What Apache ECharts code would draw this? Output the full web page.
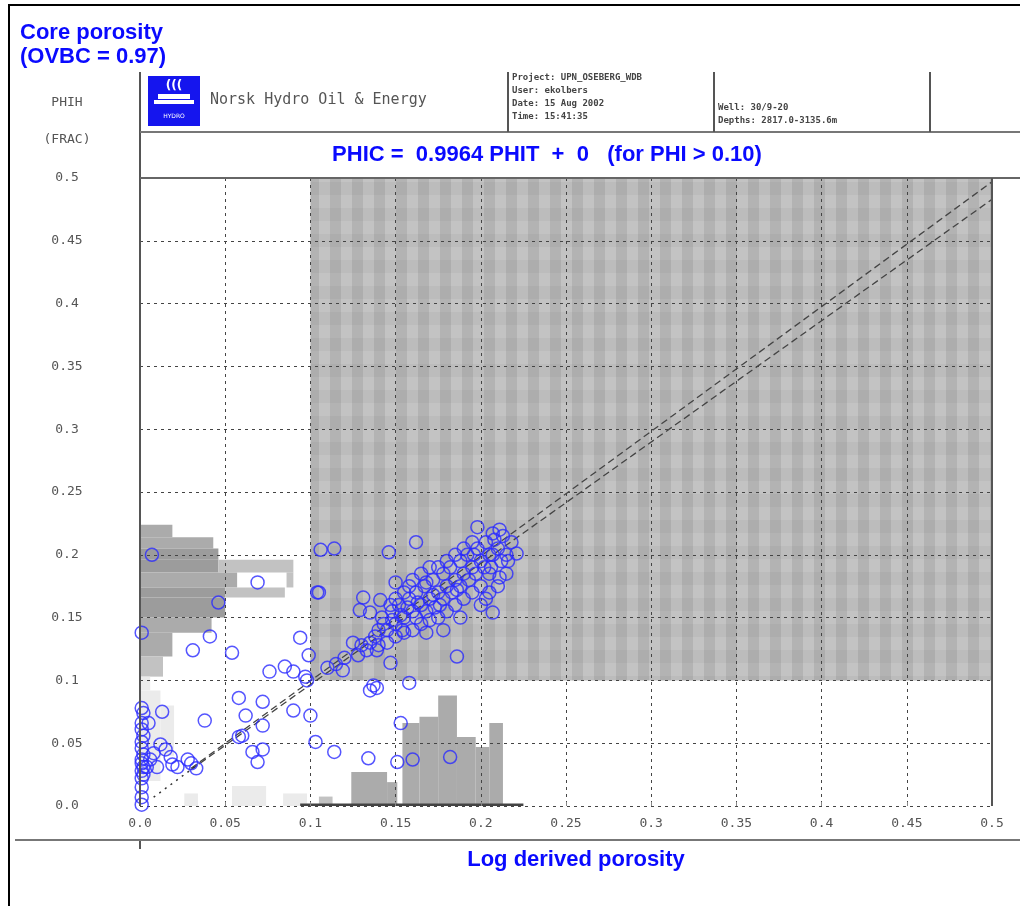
<!DOCTYPE html>
<html>
<head>
<meta charset="utf-8">
<script src="https://cdn.jsdelivr.net/npm/echarts@6/dist/echarts.min.js"></script>
<style>
html,body{margin:0;padding:0;background:#fff;}
#chart{width:1020px;height:906px;}
</style>
</head>
<body>
<div id="chart"></div>
<script>
// ---------------- DATA ----------------
const xTickValues = [0, 0.05, 0.1, 0.15, 0.2, 0.25, 0.3, 0.35, 0.4, 0.45, 0.5];
const yTickValues = [0, 0.05, 0.1, 0.15, 0.2, 0.25, 0.3, 0.35, 0.4, 0.45, 0.5];

// core points: [log derived porosity PHIT, core porosity PHIC]
const corePoints = [
  // x ~ 0 column
  [0.001,0.138],[0.001,0.078],[0.002,0.074],[0.001,0.066],[0.001,0.061],[0.002,0.056],
  [0.001,0.051],[0.001,0.046],[0.002,0.041],[0.001,0.037],[0.001,0.034],[0.002,0.031],
  [0.001,0.028],[0.002,0.025],[0.001,0.022],[0.001,0.015],[0.001,0.007],[0.001,0.001],
  // low-left cluster
  [0.006,0.037],[0.010,0.031],[0.018,0.039],[0.019,0.033],[0.028,0.037],[0.030,0.034],
  [0.033,0.030],[0.004,0.031],[0.013,0.075],[0.005,0.066],[0.012,0.049],[0.008,0.042],
  [0.022,0.031],[0.015,0.045],[0.007,0.200],
  // scattered low porosity
  [0.046,0.162],[0.069,0.178],[0.041,0.135],[0.031,0.124],[0.054,0.122],[0.094,0.134],
  [0.099,0.120],[0.076,0.107],[0.085,0.111],[0.090,0.107],[0.098,0.100],[0.104,0.170],
  [0.106,0.204],[0.114,0.205],[0.097,0.103],[0.058,0.086],[0.072,0.083],[0.062,0.072],
  [0.072,0.064],[0.090,0.076],[0.100,0.072],[0.038,0.068],[0.058,0.055],[0.060,0.056],
  [0.066,0.043],[0.072,0.045],[0.069,0.035],[0.103,0.051],[0.114,0.043],[0.134,0.038],
  [0.151,0.035],[0.160,0.037],[0.182,0.039],[0.153,0.066],[0.135,0.092],[0.139,0.094],
  [0.158,0.098],[0.137,0.096],
  // main cluster
  [0.162,0.210],[0.146,0.202],[0.105,0.170],[0.221,0.201],[0.207,0.217],[0.211,0.220],
  [0.198,0.222],[0.211,0.182],[0.207,0.154],[0.188,0.150],[0.186,0.119],
  [0.131,0.166],[0.141,0.164],[0.129,0.156],[0.135,0.154],[0.150,0.178],[0.154,0.140],
  [0.168,0.138],[0.178,0.140],[0.133,0.124],[0.139,0.124],[0.119,0.108],[0.147,0.114],
  [0.125,0.130],[0.130,0.128],[0.128,0.120],[0.135,0.130],[0.138,0.135],[0.140,0.140],
  [0.145,0.130],[0.142,0.150],[0.148,0.155],[0.150,0.145],[0.152,0.160],[0.155,0.150],
  [0.158,0.165],[0.160,0.155],[0.162,0.170],[0.165,0.160],[0.167,0.175],[0.170,0.165],
  [0.172,0.180],[0.175,0.170],[0.178,0.185],[0.180,0.175],[0.182,0.190],[0.185,0.180],
  [0.188,0.195],[0.190,0.185],[0.192,0.200],[0.195,0.190],[0.198,0.205],[0.200,0.195],
  [0.203,0.210],[0.205,0.200],[0.208,0.212],[0.210,0.205],[0.213,0.215],[0.215,0.200],
  [0.218,0.210],[0.212,0.195],[0.205,0.185],[0.200,0.175],[0.195,0.170],[0.190,0.165],
  [0.185,0.160],[0.180,0.155],[0.175,0.150],[0.170,0.148],[0.165,0.145],[0.160,0.140],
  [0.155,0.138],[0.150,0.135],[0.145,0.140],[0.140,0.128],[0.160,0.180],[0.165,0.185],
  [0.170,0.190],[0.175,0.190],[0.180,0.195],[0.185,0.200],[0.190,0.205],[0.195,0.210],
  [0.168,0.178],[0.172,0.168],[0.176,0.160],[0.183,0.170],[0.188,0.175],[0.193,0.180],
  [0.197,0.185],[0.202,0.190],[0.207,0.200],[0.200,0.160],[0.205,0.170],[0.210,0.175],
  [0.215,0.185],[0.203,0.165],[0.158,0.175],[0.155,0.170],[0.150,0.165],[0.147,0.160],
  [0.162,0.150],[0.168,0.155],[0.173,0.158],[0.178,0.165],[0.186,0.172],[0.196,0.200],
  [0.206,0.190],[0.216,0.195],[0.163,0.162],[0.157,0.158],[0.153,0.152],[0.148,0.148],
  [0.143,0.145],[0.120,0.118],[0.115,0.113],[0.110,0.110]
];

// regression lines (end points)
const lineFit = [[0.03, 0.030], [0.5, 0.497]];
const lineOvbc = [[0.03, 0.029], [0.5, 0.483]];
const lineLow = [[0.008, 0.007], [0.035, 0.034]];

// cut-off zone (PHI > 0.10)
const cutZone = [[0.1, 0.1], [0.5, 0.5]];

// histogram cells: [x0, x1, y0, y1, level]
const leftHistCells = [
  [0, 0.019, 0.214, 0.224, 2],
  [0, 0.043, 0.205, 0.214, 2],
  [0, 0.046, 0.196, 0.205, 3],
  [0, 0.046, 0.186, 0.196, 3], [0.046, 0.090, 0.186, 0.196, 1],
  [0, 0.057, 0.174, 0.186, 2], [0.086, 0.090, 0.174, 0.186, 1],
  [0, 0.050, 0.166, 0.174, 3], [0.050, 0.085, 0.166, 0.174, 1],
  [0, 0.050, 0.150, 0.166, 3],
  [0, 0.042, 0.138, 0.150, 2],
  [0, 0.019, 0.119, 0.138, 2],
  [0, 0.0135, 0.103, 0.119, 1],
  [0, 0.006, 0.092, 0.103, 0],
  [0, 0.012, 0.020, 0.092, 0], [0.012, 0.020, 0.040, 0.080, 0]
];
const bottomHistCells = [
  [0.026, 0.034, 0, 0.010, 0], [0.054, 0.074, 0, 0.016, 0], [0.084, 0.098, 0, 0.010, 0],
  [0.105, 0.113, 0, 0.0075, 1],
  [0.124, 0.145, 0, 0.027, 2],
  [0.145, 0.151, 0, 0.019, 2],
  [0.154, 0.164, 0, 0.066, 2],
  [0.164, 0.175, 0, 0.071, 2],
  [0.175, 0.186, 0, 0.088, 2],
  [0.186, 0.197, 0, 0.055, 2],
  [0.197, 0.205, 0, 0.047, 2],
  [0.205, 0.213, 0, 0.066, 2],
  [0.094, 0.225, 0, 0.002, 4]
];

// ---------------- CHART ----------------
const shades = ['#ebebeb', '#c2c2c2', '#ababab', '#9c9c9c', '#444444'];
const blue = '#2b2bff';
const titleBlue = '#0a0aff';
const monoFont = '"DejaVu Sans Mono", monospace';
const sansBold = '"Liberation Sans", Arial, sans-serif';

// stripe pattern for cut-off zone
const pc = document.createElement('canvas');
pc.width = 22; pc.height = 26;
const pctx = pc.getContext('2d');
pctx.fillStyle = '#c3c3c3'; pctx.fillRect(0, 0, 22, 26);
pctx.fillStyle = '#b3b3b3'; pctx.fillRect(0, 0, 11, 26);
pctx.fillStyle = 'rgba(0,0,0,0.03)'; pctx.fillRect(0, 0, 22, 13);

function fmt(v) {
  if (v === 0) return '0.0';
  return String(+v.toFixed(2));
}

function cellRender(params, api) {
  const p0 = api.coord([api.value(0), api.value(2)]);
  const p1 = api.coord([api.value(1), api.value(3)]);
  return {
    type: 'rect',
    shape: { x: p0[0], y: p1[1], width: p1[0] - p0[0], height: p0[1] - p1[1] },
    style: { fill: shades[api.value(4)] }
  };
}

const chart = echarts.init(document.getElementById('chart'), null, { renderer: 'canvas' });

const L = 140, T = 178, R = 992, B = 806;

const option = {
  backgroundColor: '#ffffff',
  animation: false,
  textStyle: { fontFamily: sansBold },
  grid: { left: L, top: T, width: R - L, height: B - T, containLabel: false },
  xAxis: {
    type: 'value', min: 0, max: 0.5, interval: 0.05, z: 3,
    axisLine: { show: false },
    axisTick: { show: true, inside: true, length: 4, lineStyle: { color: '#888' } },
    axisLabel: { formatter: fmt, fontFamily: monoFont, fontSize: 13, color: '#555', margin: 11 },
    splitLine: { show: true, lineStyle: { color: '#444', type: [3, 4], width: 1 } }
  },
  yAxis: {
    type: 'value', min: 0, max: 0.5, interval: 0.05, z: 3,
    axisLine: { show: false },
    axisTick: { show: false },
    axisLabel: { formatter: fmt, fontFamily: monoFont, fontSize: 13, color: '#555', margin: 73, align: 'center' },
    splitLine: { show: true, lineStyle: { color: '#444', type: [3, 4], width: 1 } }
  },
  series: [
    {
      type: 'line', data: lineFit, z: 1, symbol: 'none', silent: true,
      lineStyle: { color: 'rgba(0,0,0,0)', width: 0 },
      markArea: {
        silent: true,
        itemStyle: { color: { image: pc, repeat: 'repeat' } },
        data: [[{ coord: cutZone[0] }, { coord: cutZone[1] }]]
      }
    },
    { type: 'custom', renderItem: cellRender, data: leftHistCells, z: 2, silent: true },
    { type: 'custom', renderItem: cellRender, data: bottomHistCells, z: 2, silent: true },
    {
      type: 'line', data: lineFit, z: 4, symbol: 'none', silent: true,
      lineStyle: { color: '#444', width: 1.3, type: [7, 4] }
    },
    {
      type: 'line', data: lineOvbc, z: 4, symbol: 'none', silent: true,
      lineStyle: { color: '#444', width: 1.3, type: [7, 4] }
    },
    {
      type: 'line', data: lineLow, z: 4, symbol: 'none', silent: true,
      lineStyle: { color: '#333', width: 1.5, type: [2, 5] }
    },
    {
      type: 'scatter', data: corePoints, z: 5, symbol: 'circle', symbolSize: 13,
      itemStyle: { color: 'rgba(0,0,0,0)', borderColor: blue, borderWidth: 1.5 }
    }
  ],
  graphic: [
    // outer frame
    { type: 'rect', shape: { x: 9, y: 5, width: 1030, height: 920 }, style: { fill: null, stroke: '#000', lineWidth: 2 }, z: 10 },
    // titles
    { type: 'text', x: 20, y: 33, style: { text: 'Core porosity', fill: titleBlue, font: 'bold 22px ' + sansBold, verticalAlign: 'middle' }, z: 10 },
    { type: 'text', x: 20, y: 57, style: { text: '(OVBC = 0.97)', fill: titleBlue, font: 'bold 22px ' + sansBold, verticalAlign: 'middle' }, z: 10 },
    { type: 'text', x: 547, y: 155, style: { text: 'PHIC =  0.9964 PHIT  +  0   (for PHI > 0.10)', fill: titleBlue, font: 'bold 22px ' + sansBold, align: 'center', verticalAlign: 'middle' }, z: 10 },
    { type: 'text', x: 576, y: 860, style: { text: 'Log derived porosity', fill: titleBlue, font: 'bold 22px ' + sansBold, align: 'center', verticalAlign: 'middle' }, z: 10 },
    // y axis name
    { type: 'text', x: 67, y: 103, style: { text: 'PHIH', fill: '#555', font: '13px ' + monoFont, align: 'center', verticalAlign: 'middle' }, z: 10 },
    { type: 'text', x: 67, y: 140, style: { text: '(FRAC)', fill: '#555', font: '13px ' + monoFont, align: 'center', verticalAlign: 'middle' }, z: 10 },
    // frame lines
    { type: 'line', shape: { x1: 140, y1: 72, x2: 140, y2: 806 }, style: { stroke: '#555', lineWidth: 2 }, z: 10 },
    { type: 'line', shape: { x1: 140, y1: 840, x2: 140, y2: 849 }, style: { stroke: '#555', lineWidth: 2 }, z: 10 },
    { type: 'line', shape: { x1: 140, y1: 132, x2: 1020, y2: 132 }, style: { stroke: '#777', lineWidth: 2 }, z: 10 },
    { type: 'line', shape: { x1: 140, y1: 178, x2: 1020, y2: 178 }, style: { stroke: '#666', lineWidth: 2 }, z: 10 },
    { type: 'line', shape: { x1: 992, y1: 178, x2: 992, y2: 806 }, style: { stroke: '#555', lineWidth: 2 }, z: 10 },
    { type: 'line', shape: { x1: 15, y1: 840, x2: 1020, y2: 840 }, style: { stroke: '#777', lineWidth: 2 }, z: 10 },
    { type: 'line', shape: { x1: 508, y1: 72, x2: 508, y2: 132 }, style: { stroke: '#555', lineWidth: 2 }, z: 10 },
    { type: 'line', shape: { x1: 714, y1: 72, x2: 714, y2: 132 }, style: { stroke: '#555', lineWidth: 2 }, z: 10 },
    { type: 'line', shape: { x1: 930, y1: 72, x2: 930, y2: 132 }, style: { stroke: '#555', lineWidth: 2 }, z: 10 },
    // logo
    { type: 'rect', shape: { x: 148, y: 76, width: 52, height: 50 }, style: { fill: '#1515ee' }, z: 10 },
    { type: 'rect', shape: { x: 154, y: 100, width: 40, height: 4 }, style: { fill: '#fff' }, z: 11 },
    { type: 'rect', shape: { x: 158, y: 94, width: 32, height: 5 }, style: { fill: '#fff' }, z: 11 },
    { type: 'text', x: 174, y: 86, style: { text: '(((', fill: '#fff', font: 'bold 12px "DejaVu Sans"', align: 'center', verticalAlign: 'middle' }, z: 11 },
    { type: 'text', x: 174, y: 116, style: { text: 'HYDRO', fill: '#fff', font: '6px "DejaVu Sans"', align: 'center', verticalAlign: 'middle' }, z: 11 },
    { type: 'text', x: 210, y: 100, style: { text: 'Norsk Hydro Oil & Energy', fill: '#555', font: '15px ' + monoFont, verticalAlign: 'middle' }, z: 10 },
    // header info
    { type: 'text', x: 512, y: 78, style: { text: 'Project: UPN_OSEBERG_WDB', fill: '#444', font: 'bold 9px ' + monoFont, verticalAlign: 'middle' }, z: 10 },
    { type: 'text', x: 512, y: 91, style: { text: 'User: ekolbers', fill: '#444', font: 'bold 9px ' + monoFont, verticalAlign: 'middle' }, z: 10 },
    { type: 'text', x: 512, y: 104, style: { text: 'Date: 15 Aug 2002', fill: '#444', font: 'bold 9px ' + monoFont, verticalAlign: 'middle' }, z: 10 },
    { type: 'text', x: 512, y: 117, style: { text: 'Time: 15:41:35', fill: '#444', font: 'bold 9px ' + monoFont, verticalAlign: 'middle' }, z: 10 },
    { type: 'text', x: 718, y: 108, style: { text: 'Well: 30/9-20', fill: '#444', font: 'bold 9px ' + monoFont, verticalAlign: 'middle' }, z: 10 },
    { type: 'text', x: 718, y: 121, style: { text: 'Depths: 2817.0-3135.6m', fill: '#444', font: 'bold 9px ' + monoFont, verticalAlign: 'middle' }, z: 10 }
  ]
};

chart.setOption(option);
</script>
</body>
</html>
